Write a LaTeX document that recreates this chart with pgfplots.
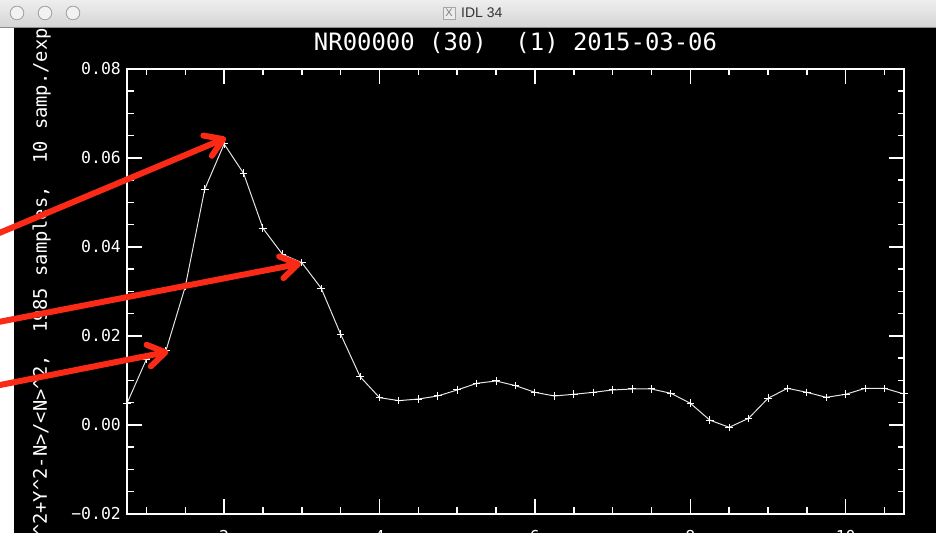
\documentclass[border=0pt]{standalone}
\usepackage{fontspec}
\usepackage{pgfplots}
\usepackage{pgfplotstable}
\pgfplotsset{compat=1.18}
\usetikzlibrary{arrows.meta}

\newfontfamily\idl{DejaVu Sans Mono}
\newfontfamily\ui{Liberation Sans}

\definecolor{skitch}{RGB}{250,42,22}
\definecolor{bartop}{RGB}{238,238,238}
\definecolor{barbot}{RGB}{212,212,212}
\definecolor{trace}{RGB}{228,228,228}

% normalised variance against lag
\pgfplotstableread{
x      y
0.75   0.00488
1.00   0.01476
1.25   0.01663
1.50   0.03110
1.75   0.05297
2.00   0.06315
2.25   0.05656
2.50   0.04420
2.75   0.03836
3.00   0.03648
3.25   0.03071
3.50   0.02038
3.75   0.01086
4.00   0.00614
4.25   0.00547
4.50   0.00584
4.75   0.00652
5.00   0.00787
5.25   0.00936
5.50   0.00989
5.75   0.00884
6.00   0.00734
6.25   0.00652
6.50   0.00690
6.75   0.00734
7.00   0.00787
7.25   0.00809
7.50   0.00809
7.75   0.00712
8.00   0.00488
8.25   0.00110
8.50  -0.00052
8.75   0.00150
9.00   0.00600
9.25   0.00824
9.50   0.00734
9.75   0.00622
10.00  0.00690
10.25  0.00824
10.50  0.00824
10.75  0.00697
}\lagdata

\begin{document}
\begin{tikzpicture}[x=1bp,y=1bp]
\useasboundingbox (0,0) rectangle (936,533);
\clip (0,0) rectangle (936,533);
\fill[black] (0,0) rectangle (936,533);
\fill[white] (0,0) rectangle (14,505);

\begin{axis}[
  at={(127bp,19bp)}, anchor=south west,
  scale only axis, width=777bp, height=445bp,
  xmin=0.75, xmax=10.75, ymin=-0.02, ymax=0.08,
  clip mode=individual,
  scaled y ticks=false, scaled x ticks=false,
  axis line style={white, line width=1.8bp},
  every tick/.style={white, line width=1.5bp},
  tick align=inside,
  major tick length=15bp, minor tick length=6.5bp,
  xtick={2,4,6,8,10}, xticklabels={2,4,6,8,10},
  minor xtick={1,1.5,...,10.5},
  ytick={-0.02,0,0.02,0.04,0.06,0.08},
  yticklabels={−0.02,0.00,0.02,0.04,0.06,0.08},
  minor ytick={-0.015,-0.01,...,0.076},
  yticklabel style={font=\idl\fontsize{16.5}{18}\selectfont, text=white,
    inner sep=0pt, anchor=east, xshift=-6bp},
  xticklabel style={font=\idl\fontsize{16.5}{18}\selectfont, text=white,
    inner sep=0pt, anchor=north, yshift=-16bp},
  title={NR00000 (30)\ \ (1) 2015-03-06},
  title style={at={(0.5,1)}, anchor=base, yshift=13bp, inner sep=0pt,
    font=\idl\fontsize{24}{26}\selectfont, text=white},
  ylabel={<X\textasciicircum 2+Y\textasciicircum 2-N>/<N>\textasciicircum 2,\ \ 1985 samples,\ \ 10 samp./exp.},
  ylabel style={at={(axis description cs:-0.103,-0.1002)}, anchor=base west,
    inner sep=0pt, font=\idl\fontsize{18.8}{20}\selectfont, text=white},
]
\addplot[trace, line width=1bp, mark=+, mark size=3.8bp,
  mark options={white, line width=1bp, solid}] table {\lagdata};

% ends of the call-out arrows
\coordinate (t1) at (axis cs:2.024,0.0645);
\coordinate (s1) at (axis cs:-1.142,0.04133);
\coordinate (t2) at (axis cs:2.989,0.03629);
\coordinate (s2) at (axis cs:-1.142,0.02234);
\coordinate (t3) at (axis cs:1.2815,0.01647);
\coordinate (s3) at (axis cs:-1.142,0.00809);
\end{axis}

% window title bar
\shade[top color=bartop, bottom color=barbot] (0,505) rectangle (936,533);
\draw[black!45, line width=1bp] (0,505.5) -- (936,505.5);
\foreach \cx in {17,45,73}
  \draw[gray!75, line width=0.8bp, fill=white!90!gray] (\cx,520) circle (6.8);
\node[draw=gray!70, fill=white!85!gray, minimum size=12bp, inner sep=0pt,
  font=\ui\fontsize{11}{12}\selectfont, text=gray] at (449,520) {X};
\node[font=\ui\fontsize{14}{16}\selectfont, text=black!80, anchor=west,
  inner sep=0pt] at (461,520) {IDL 34};

% call-out arrows
\begin{scope}[skitch, line width=6bp, line cap=round, line join=round]
  \draw[-{Straight Barb[round, length=17bp, width=22bp]}] (s1) -- (t1);
  \draw[-{Straight Barb[round, length=17bp, width=22bp]}] (s2) -- (t2);
  \draw[-{Straight Barb[round, length=17bp, width=22bp]}] (s3) -- (t3);
\end{scope}
\end{tikzpicture}
\end{document}
